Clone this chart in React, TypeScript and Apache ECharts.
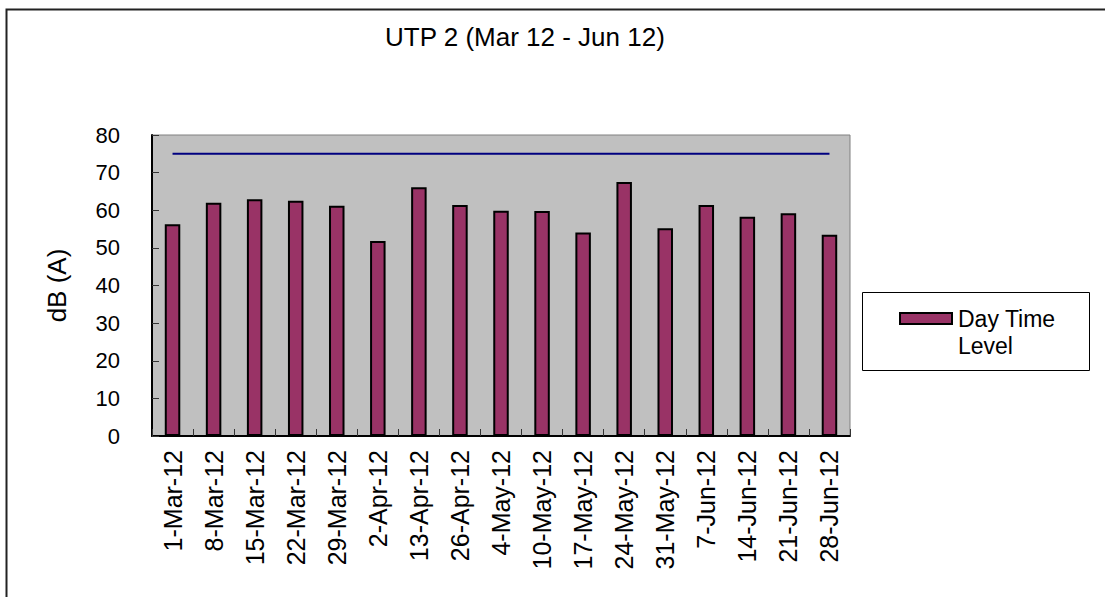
import React, { useEffect, useRef } from "react";
import * as echarts from "echarts";

const categories = [
  "1-Mar-12", "8-Mar-12", "15-Mar-12", "22-Mar-12", "29-Mar-12", "2-Apr-12",
  "13-Apr-12", "26-Apr-12", "4-May-12", "10-May-12", "17-May-12", "24-May-12",
  "31-May-12", "7-Jun-12", "14-Jun-12", "21-Jun-12", "28-Jun-12",
];
const dayTimeLevel = [56.3, 62.0, 62.9, 62.5, 61.2, 51.8, 66.1, 61.4, 59.9, 59.8, 54.1, 67.5, 55.2, 61.4, 58.3, 59.2, 53.5];
const limitLevel = [75, 75, 75, 75, 75, 75, 75, 75, 75, 75, 75, 75, 75, 75, 75, 75, 75];
const titleText = "UTP 2 (Mar 12 - Jun 12)";
const yAxisName = "dB (A)";
const seriesName = "Day Time Level";
const legendLines = ["Day Time", "Level"];

const FONT = "'Liberation Sans', Arial, sans-serif";

export default function App() {
  const ref = useRef<HTMLDivElement>(null);
  useEffect(() => {
    if (!ref.current) return;
    const chart = echarts.init(ref.current, null, { renderer: "svg" });
    chart.setOption({
      animation: false,
      backgroundColor: "#ffffff",
      textStyle: { fontFamily: FONT, color: "#000" },
      title: {
        text: titleText,
        left: 385,
        top: 24,
        padding: 0,
        textStyle: { fontFamily: FONT, fontSize: 26, fontWeight: "normal", color: "#000" },
      },
      legend: { show: false },
      grid: {
        left: 152,
        right: 255,
        top: 135,
        bottom: 161,
        show: true,
        backgroundColor: "#C0C0C0",
        borderColor: "#808080",
        borderWidth: 1,
      },
      xAxis: {
        type: "category",
        data: categories,
        boundaryGap: true,
        axisLine: { show: true, lineStyle: { color: "#000", width: 2 } },
        axisTick: { show: true, inside: true, length: 7, lineStyle: { color: "#333" } },
        axisLabel: {
          rotate: 90,
          margin: 14,
          interval: 0,
          fontFamily: FONT,
          fontSize: 25,
          color: "#000",
        },
        splitLine: { show: false },
      },
      yAxis: {
        type: "value",
        min: 0,
        max: 80,
        interval: 10,
        name: yAxisName,
        nameLocation: "middle",
        nameRotate: 90,
        nameGap: 82,
        nameTextStyle: { fontFamily: FONT, fontSize: 26, color: "#000" },
        axisLine: { show: true, lineStyle: { color: "#000", width: 2 } },
        axisTick: { show: true, inside: true, length: 7, lineStyle: { color: "#333" } },
        axisLabel: { margin: 32, fontFamily: FONT, fontSize: 22, color: "#000" },
        splitLine: { show: false },
      },
      series: [
        {
          name: seriesName,
          type: "bar",
          data: dayTimeLevel,
          barWidth: 15.5,
          itemStyle: { color: "#993366", borderColor: "#000", borderWidth: 2 },
          z: 2,
        },
        {
          name: "Limit",
          type: "line",
          data: limitLevel,
          symbol: "none",
          lineStyle: { color: "#000080", width: 2 },
          z: 3,
        },
      ],
      graphic: [
        {
          type: "rect",
          shape: { x: 6.5, y: 9.5, width: 1300, height: 800 },
          style: { fill: "none", stroke: "#222", lineWidth: 2 },
          silent: true,
        },
        {
          type: "rect",
          shape: { x: 862.5, y: 292.5, width: 227, height: 78 },
          style: { fill: "#fff", stroke: "#000", lineWidth: 1 },
        },
        {
          type: "rect",
          shape: { x: 900, y: 313, width: 52, height: 11 },
          style: { fill: "#993366", stroke: "#000", lineWidth: 2 },
        },
        {
          type: "text",
          x: 958,
          y: 319,
          style: {
            text: legendLines[0],
            fontFamily: FONT,
            fontSize: 23,
            fill: "#000",
            textVerticalAlign: "middle",
          },
        },
        {
          type: "text",
          x: 958,
          y: 346,
          style: {
            text: legendLines[1],
            fontFamily: FONT,
            fontSize: 23,
            fill: "#000",
            textVerticalAlign: "middle",
          },
        },
      ],
    });
    return () => chart.dispose();
  }, []);
  return (
    <div
      ref={ref}
      style={{ position: "fixed", left: 0, top: 0, width: 1105, height: 597 }}
    />
  );
}
